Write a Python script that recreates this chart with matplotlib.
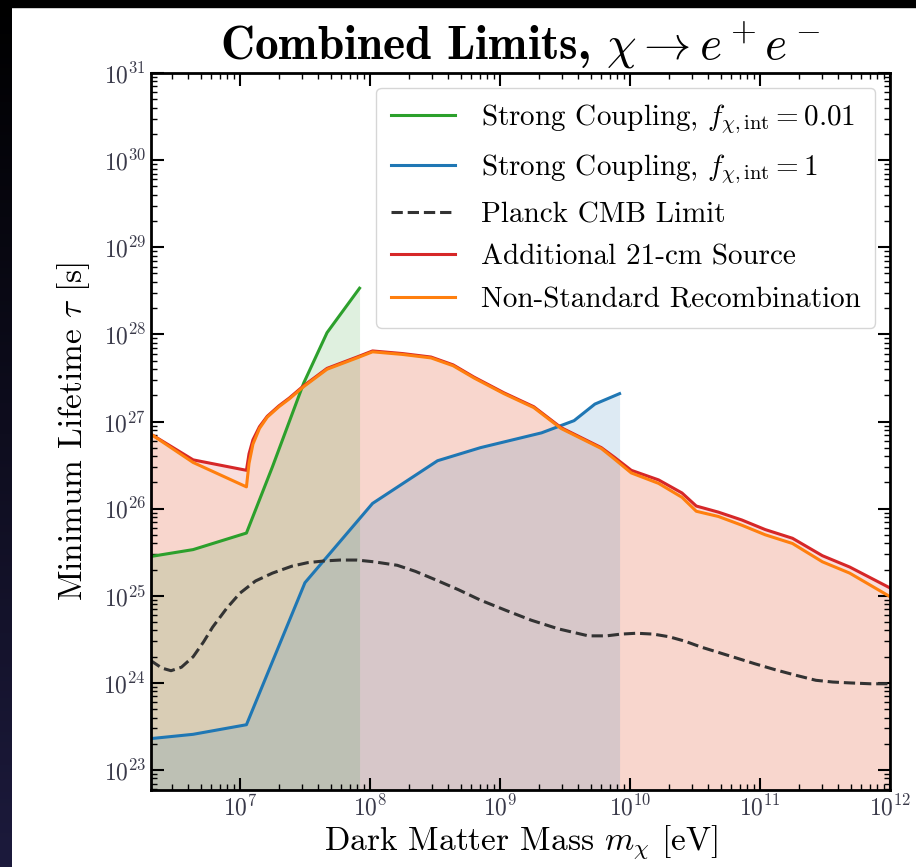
import numpy as np
import matplotlib.pyplot as plt
from matplotlib.patches import Rectangle
from matplotlib.colors import LinearSegmentedColormap

plt.rcParams["font.family"] = ["cmr10", "DejaVu Serif"]
plt.rcParams["mathtext.fontset"] = "cm"
plt.rcParams["axes.formatter.use_mathtext"] = True

# log10 of mass [eV] and lifetime [s]
log_m_red = [6.31, 6.64, 7.05, 7.07, 7.10, 7.15, 7.21, 7.30, 7.38, 7.49, 7.67, 7.90, 8.02,
             8.25, 8.47, 8.64, 8.80, 9.03, 9.26, 9.47, 9.78, 9.88, 10.01, 10.22, 10.40,
             10.51, 10.68, 10.86, 11.04, 11.25, 11.48, 11.69, 12.0]
log_tau_red = [26.86, 26.56, 26.44, 26.63, 26.79, 26.94, 27.06, 27.18, 27.27, 27.41, 27.61,
               27.74, 27.81, 27.78, 27.74, 27.65, 27.51, 27.33, 27.17, 26.93, 26.70, 26.59,
               26.44, 26.33, 26.18, 26.03, 25.96, 25.87, 25.76, 25.66, 25.46, 25.33, 25.09]
log_tau_orange = [26.86, 26.53, 26.25, 26.52, 26.74, 26.92, 27.05, 27.17, 27.26, 27.40, 27.60,
                  27.73, 27.80, 27.77, 27.73, 27.64, 27.50, 27.32, 27.16, 26.92, 26.69, 26.57,
                  26.41, 26.29, 26.13, 25.97, 25.91, 25.81, 25.70, 25.60, 25.39, 25.26, 24.99]

log_m_green = [6.31, 6.64, 7.05, 7.25, 7.49, 7.67, 7.92]
log_tau_green = [25.45, 25.53, 25.72, 26.48, 27.44, 28.02, 28.53]

log_m_blue = [6.31, 6.64, 7.05, 7.50, 8.02, 8.52, 8.85, 9.32, 9.57, 9.73, 9.92]
log_tau_blue = [23.36, 23.41, 23.52, 25.15, 26.06, 26.55, 26.70, 26.87, 27.01, 27.20, 27.32]

log_m_planck = [6.31, 6.40, 6.47, 6.55, 6.64, 6.72, 6.79, 6.90, 7.00, 7.12, 7.25, 7.40, 7.52,
                7.65, 7.77, 7.90, 8.03, 8.21, 8.35, 8.51, 8.68, 8.85, 9.05, 9.24, 9.45, 9.68,
                9.82, 9.93, 10.05, 10.18, 10.30, 10.42, 10.55, 10.68, 10.81, 10.96, 11.12,
                11.27, 11.43, 11.56, 11.69, 11.85, 12.0]
log_tau_planck = [24.26, 24.17, 24.14, 24.18, 24.30, 24.47, 24.64, 24.86, 25.03, 25.17, 25.26,
                  25.34, 25.38, 25.40, 25.41, 25.41, 25.39, 25.35, 25.28, 25.18, 25.07, 24.95,
                  24.83, 24.72, 24.62, 24.54, 24.54, 24.56, 24.57, 24.56, 24.53, 24.48, 24.41,
                  24.35, 24.29, 24.22, 24.15, 24.09, 24.03, 24.01, 24.00, 23.99, 23.99]

m_red = 10 ** np.array(log_m_red)
m_green = 10 ** np.array(log_m_green)
m_blue = 10 ** np.array(log_m_blue)
m_planck = 10 ** np.array(log_m_planck)

ylow, yhigh = 5.9e22, 1e31

fig = plt.figure(figsize=(9.16, 8.67), dpi=100)
ax = fig.add_axes([151 / 916, 77 / 867, 739 / 916, 717 / 867])

# fills
ax.fill_between(m_red, ylow, 10 ** np.array(log_tau_red), color="tab:red", alpha=0.15, lw=0)
ax.fill_between(m_red, ylow, 10 ** np.array(log_tau_orange), color="tab:orange", alpha=0.08, lw=0)
ax.fill_between(m_green, ylow, 10 ** np.array(log_tau_green), color="tab:green", alpha=0.15, lw=0)
ax.fill_between(m_blue, ylow, 10 ** np.array(log_tau_blue), color="tab:blue", alpha=0.15, lw=0)

# lines
ax.plot(m_green, 10 ** np.array(log_tau_green), color="tab:green", lw=2.2,
        label=r"Strong Coupling, $f_{\chi,\mathrm{int}} = 0.01$")
ax.plot(m_blue, 10 ** np.array(log_tau_blue), color="tab:blue", lw=2.2,
        label=r"Strong Coupling, $f_{\chi,\mathrm{int}} = 1$")
ax.plot(m_planck, 10 ** np.array(log_tau_planck), color="#333333", lw=2.2, ls="--",
        label="Planck CMB Limit")
ax.plot(m_red, 10 ** np.array(log_tau_red), color="tab:red", lw=2.2,
        label="Additional 21-cm Source")
ax.plot(m_red, 10 ** np.array(log_tau_orange), color="tab:orange", lw=2.2,
        label="Non-Standard Recombination")

ax.set_xscale("log")
ax.set_yscale("log")
ax.set_xlim(2.07e6, 1e12)
ax.set_ylim(ylow, yhigh)
ax.set_yticks([10.0 ** k for k in range(23, 32)])
ax.set_xticks([10.0 ** k for k in range(7, 13)])

ax.tick_params(which="both", direction="in", top=True, right=True, labelsize=17,
               labelcolor="#3a3a4a")
ax.tick_params(which="major", length=9, width=1.5)
ax.tick_params(which="minor", length=4, width=1)
for s in ax.spines.values():
    s.set_linewidth(2)

ax.set_xlabel(r"Dark Matter Mass $m_\chi$ [eV]", fontsize=24, labelpad=2)
ax.set_ylabel(r"Minimum Lifetime $\tau$ [s]", fontsize=24, labelpad=8)
ax.set_title(r"Combined Limits, $\chi \rightarrow e^+e^-$", fontsize=34,
             fontfamily="cmb10", pad=10)

ax.legend(loc="upper right", fontsize=21, handlelength=2.2, borderpad=0.5,
          labelspacing=0.55, handletextpad=0.9)

# screenshot border: black top band and dark gradient strip on the left
fig.patches.append(Rectangle((0, 1 - 7 / 867), 1, 7 / 867, transform=fig.transFigure,
                             color="black", zorder=5))
strip = fig.add_axes([0, 0, 12 / 916, 1])
grad = np.linspace(0, 1, 256).reshape(-1, 1)
strip.imshow(grad, aspect="auto", origin="lower", extent=[0, 1, 0, 1],
             cmap=LinearSegmentedColormap.from_list("bg", ["#1c1a3c", "#000000"]))
strip.axis("off")

fig.savefig("out.png", dpi=100)
